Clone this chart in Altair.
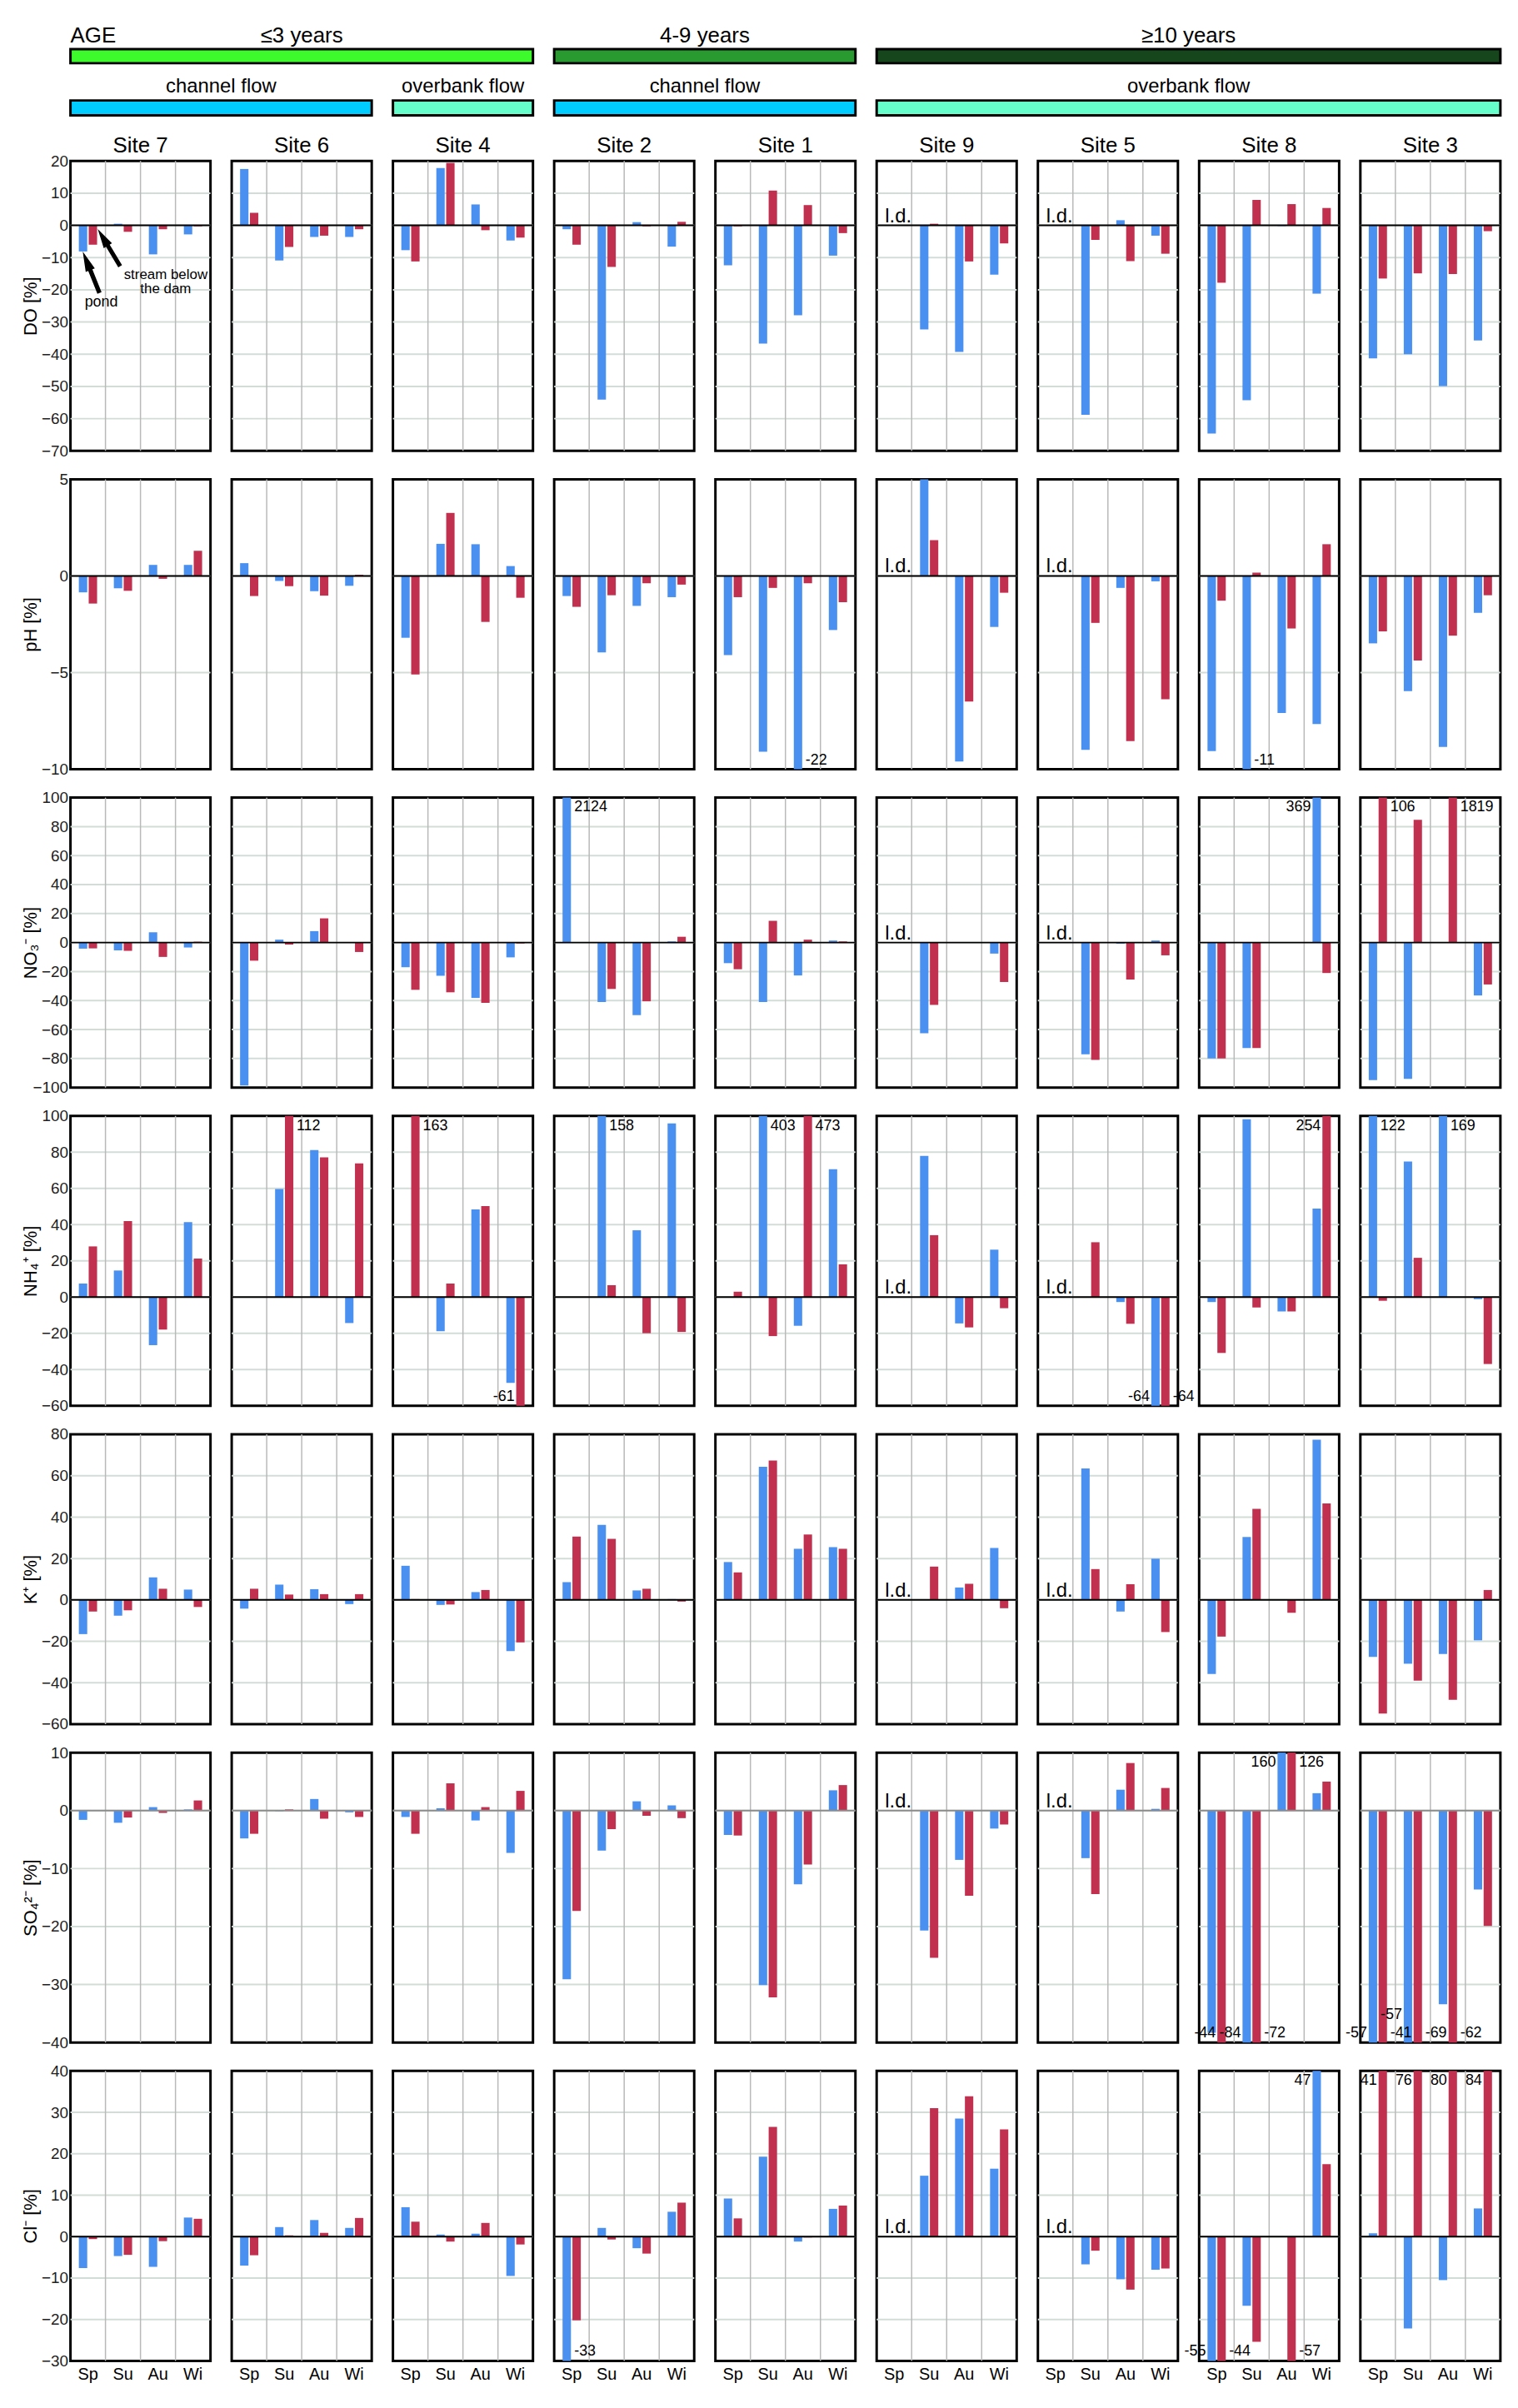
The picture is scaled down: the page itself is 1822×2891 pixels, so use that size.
import altair as alt
import pandas as pd

# ---------------- data ----------------
SITES = ["Site 7", "Site 6", "Site 4", "Site 2", "Site 1", "Site 9", "Site 5", "Site 8", "Site 3"]
SEASONS = ["Sp", "Su", "Au", "Wi"]
SERIES = ["pond", "stream"]
PARAMS = ["DO", "pH", "NO3", "NH4", "K", "SO4", "Cl"]
TITLES = {"DO": "DO [%]", "pH": "pH [%]", "NO3": "NO\u2083\u207b [%]", "NH4": "NH\u2084\u207a [%]",
          "K": "K\u207a [%]", "SO4": "SO\u2084\u00b2\u207b [%]", "Cl": "Cl\u207b [%]"}
DOMAINS = {"DO": (-70, 20), "pH": (-10, 5), "NO3": (-100, 100), "NH4": (-60, 100),
           "K": (-60, 80), "SO4": (-40, 10), "Cl": (-30, 40)}
TICK_STEP = {"DO": 10, "pH": 5, "NO3": 20, "NH4": 20, "K": 20, "SO4": 10, "Cl": 10}
LD_SITES = ["Site 9", "Site 5"]

# rows follow SITES, columns follow SEASONS; None = below limit of detection
DO_POND = [[-8.1, 0.5, -9.0, -2.8], [17.5, -10.9, -3.6, -3.6], [-7.7, 17.8, 6.5, -4.7],
           [-1.2, -54.1, 1.0, -6.6], [-12.4, -36.7, -27.9, -9.4], [None, -32.3, -39.3, -15.3],
           [None, -58.8, 1.6, -3.2], [-64.6, -54.3, -0.2, -21.2], [-41.3, -40.0, -49.9, -35.7]]
DO_STREAM = [[-6.0, -2.0, -1.2, -0.3], [3.9, -6.7, -3.2, -1.2], [-11.2, 19.4, -1.5, -3.8],
             [-6.0, -12.9, -0.3, 1.1], [-0.3, 10.8, 6.3, -2.4], [None, 0.5, -11.2, -5.6],
             [None, -4.5, -11.1, -8.8], [-17.8, 7.9, 6.6, 5.4], [-16.5, -14.9, -15.1, -1.8]]
PH_POND = [[-0.85, -0.64, 0.57, 0.57], [0.66, -0.26, -0.79, -0.51], [-3.2, 1.66, 1.64, 0.51],
           [-1.04, -3.96, -1.55, -1.1], [-4.1, -9.1, -22, -2.8], [None, 5.0, -9.6, -2.64],
           [None, -9.0, -0.62, -0.28], [-9.06, -11, -7.09, -7.66], [-3.49, -5.96, -8.85, -1.91]]
PH_STREAM = [[-1.43, -0.77, -0.15, 1.3], [-1.04, -0.53, -1.02, 0.06], [-5.1, 3.26, -2.38, -1.13],
             [-1.6, -1.0, -0.38, -0.45], [-1.1, -0.62, -0.38, -1.36], [None, 1.85, -6.5, -0.87],
             [None, -2.43, -8.55, -6.38], [-1.28, 0.17, -2.72, 1.64], [-2.87, -4.38, -3.09, -1.0]]
NO3_POND = [[-4.2, -5.4, 7.1, -3.4], [-98.6, 2.0, 7.9, 0.0], [-17.0, -22.9, -38.2, -10.2],
            [2124, -41.0, -50.1, 0.8], [-14.2, -41.0, -22.7, 1.4], [None, -62.6, 0.0, -7.6],
            [None, -77.0, -0.8, 1.4], [-79.9, -72.8, 0.0, 369], [-94.9, -94.0, 0.0, -36.5]]
NO3_STREAM = [[-4.0, -5.7, -9.9, 0.6], [-12.5, -1.4, 16.7, -6.5], [-32.6, -34.3, -41.6, -0.6],
              [0.0, -32.0, -40.5, 4.0], [-18.4, 15.0, 2.0, 0.8], [None, -43.0, 0.0, -27.2],
              [None, -81.0, -25.5, -8.8], [-79.9, -72.8, 0.0, -21.0], [106, 84.7, 1819, -28.9]]
NH4_POND = [[7.5, 14.7, -26.5, 41.4], [0.0, 59.7, 81.2, -14.3], [0.0, -18.8, 48.4, -47.3],
            [0.0, 158, 36.9, 95.9], [0.0, 403, -15.8, 70.6], [None, 78.0, -14.5, 26.2],
            [None, 0.0, -2.7, -64], [-2.7, 98.2, -7.9, 48.9], [122, 74.9, 169, -1.1]]
NH4_STREAM = [[28.0, 42.0, -17.9, 21.3], [0.0, 112, 77.1, 73.8], [163, 7.5, 50.2, -61],
              [0.0, 6.6, -19.9, -19.2], [3.0, -21.5, 473, 18.1], [None, 34.2, -16.7, -6.1],
              [None, 30.3, -14.7, -64], [-30.8, -5.7, -7.9, 254], [-2.0, 21.7, 0.0, -36.9]]
K_POND = [[-16.5, -7.6, 10.9, 5.0], [-4.2, 7.4, 5.2, -2.0], [16.5, -2.4, 3.8, -24.7],
          [8.6, 36.2, 4.6, 0.4], [18.3, 64.3, 24.7, 25.5], [None, 0.0, 6.0, 25.1],
          [None, 63.5, -5.6, 19.9], [-35.8, 30.4, 0.0, 77.4], [-27.5, -30.8, -26.1, -19.5]]
K_STREAM = [[-5.6, -5.0, 5.4, -3.4], [5.4, 2.6, 2.8, 2.8], [0.4, -2.2, 4.8, -20.5],
            [30.6, 29.5, 5.4, -0.8], [13.3, 67.3, 31.6, 24.7], [None, 16.1, 7.8, -4.0],
            [None, 14.9, 7.6, -15.5], [-17.7, 44.0, -6.2, 46.6], [-54.9, -39.0, -48.2, 4.8]]
SO4_POND = [[-1.6, -2.1, 0.6, 0.2], [-4.8, -0.1, 2.0, -0.3], [-1.1, 0.4, -1.7, -7.3],
            [-29.1, -6.9, 1.6, 0.9], [-4.2, -30.1, -12.7, 3.5], [None, -20.7, -8.5, -3.1],
            [None, -8.2, 3.6, 0.3], [-38.3, -84, 160, 3.0], [-57, -57, -33.4, -13.6]]
SO4_STREAM = [[0.0, -1.2, -0.4, 1.75], [-4.0, 0.2, -1.4, -1.1], [-4.0, 4.7, 0.6, 3.4],
              [-17.3, -3.2, -0.9, -1.3], [-4.3, -32.2, -9.3, 4.4], [None, -25.4, -14.7, -2.4],
              [None, -14.4, 8.2, 3.9], [-44, -72, 126, 5.0], [-41, -69, -62, -19.9]]
CL_POND = [[-7.6, -4.7, -7.3, 4.6], [-7.0, 2.3, 4.0, 2.1], [7.1, 0.5, 0.7, -9.5],
           [-33, 2.1, -2.8, 6.0], [9.2, 19.3, -1.2, 6.7], [None, 14.7, 28.5, 16.4],
           [None, -6.7, -10.3, -8.0], [-55, -16.7, 0.0, 47], [0.8, -22.2, -10.5, 6.8]]
CL_STREAM = [[-0.6, -4.4, -1.1, 4.3], [-4.5, 0.3, 0.9, 4.5], [3.6, -1.2, 3.3, -1.9],
             [-20.2, -0.7, -4.1, 8.2], [4.4, 26.5, -0.2, 7.5], [None, 31.0, 33.9, 25.9],
             [None, -3.4, -12.8, -7.7], [-44, -25.4, -57, 17.5], [41, 76, 80, 84]]

VALUES = {"DO": (DO_POND, DO_STREAM), "pH": (PH_POND, PH_STREAM), "NO3": (NO3_POND, NO3_STREAM),
          "NH4": (NH4_POND, NH4_STREAM), "K": (K_POND, K_STREAM), "SO4": (SO4_POND, SO4_STREAM),
          "Cl": (CL_POND, CL_STREAM)}

# out-of-range value labels that sit to the left of their bar (others sit to the right)
LEFT_LABELS = {
    ("NO3", "Site 8", "Wi", "pond"),
    ("NH4", "Site 4", "Wi", "stream"), ("NH4", "Site 5", "Wi", "pond"), ("NH4", "Site 8", "Wi", "stream"),
    ("SO4", "Site 8", "Sp", "stream"), ("SO4", "Site 8", "Su", "pond"), ("SO4", "Site 8", "Au", "pond"),
    ("SO4", "Site 3", "Sp", "pond"), ("SO4", "Site 3", "Su", "pond"),
    ("Cl", "Site 8", "Sp", "pond"), ("Cl", "Site 8", "Wi", "pond"),
    ("Cl", "Site 3", "Sp", "stream"), ("Cl", "Site 3", "Su", "stream"),
    ("Cl", "Site 3", "Au", "stream"), ("Cl", "Site 3", "Wi", "stream"),
}
RAISED_LABELS = {("SO4", "Site 3", "Su", "pond")}

AGE_GROUPS = [("\u22643 years", 0, 2, "#3cfa2c"), ("4-9 years", 3, 4, "#289a30"),
              ("\u226510 years", 5, 8, "#15461c")]
FLOW_GROUPS = [("channel flow", 0, 1, "#00ccff"), ("overbank flow", 2, 2, "#66ffcc"),
               ("channel flow", 3, 4, "#00ccff"), ("overbank flow", 5, 8, "#66ffcc")]

# ---------------- style / layout ----------------
W, H = 169, 350
HH = 140
SP_COL, SP_ROW = 25.6, 34.3
BLUE, RED = "#4a90f0", "#c1304f"
GRID_H, GRID_V = "#d3ddd8", "#b9b9b9"
FN = "Liberation Sans, Arial, sans-serif"
FR = "Liberation Sans, Arial, sans-serif"
ARROW = "M0,-1 L0.22,-0.1 L0.1,-0.1 L0.1,1 L-0.1,1 L-0.1,-0.1 L-0.22,-0.1 Z"

XS = alt.Scale(domain=SEASONS, paddingInner=0, paddingOuter=0)
XOS = alt.Scale(domain=SERIES, paddingInner=0.15, paddingOuter=0.85)
COLS = alt.Scale(domain=SERIES, range=[BLUE, RED])


def panel(p, si, ri):
    site = SITES[si]
    dmin, dmax = DOMAINS[p]
    ys = alt.Scale(domain=[dmin, dmax], clamp=True, nice=False, zero=False)
    ticks = list(range(dmin, dmax + 1, TICK_STEP[p]))
    if si == 0:
        yax = alt.Axis(values=ticks, title=TITLES[p], grid=False, ticks=False, domain=False,
                       labelFont=FN, labelFontSize=19, labelColor="#222222", labelPadding=3,
                       titleFont=FR, titleFontSize=22, titleFontWeight="normal", titleColor="black",
                       titleX=-36)
    else:
        yax = None
    if ri == len(PARAMS) - 1:
        xax = alt.Axis(title=None, ticks=False, domain=False, grid=False, labelAngle=0,
                       labelFont=FN, labelFontSize=20, labelColor="black", labelPadding=6)
    else:
        xax = None

    def X(**kw):
        return alt.X("season:N", scale=XS, axis=xax, sort=SEASONS, **kw)

    def XO():
        return alt.XOffset("series:N", scale=XOS, sort=SERIES)

    def Y(field, **kw):
        return alt.Y(f"{field}:Q", scale=ys, axis=yax, **kw)

    pond, stream = VALUES[p]
    rows = []
    for k, s in enumerate(SEASONS):
        for ser, arr in zip(SERIES, (pond, stream)):
            v = arr[si][k]
            if v is not None:
                rows.append({"season": s, "series": ser, "value": v})
    bdf = pd.DataFrame(rows)

    layers = []
    layers.append(alt.Chart(pd.DataFrame({"t": ticks[1:-1]})).mark_rule(
        color=GRID_H, strokeWidth=2).encode(y=Y("t")))
    layers.append(alt.Chart(pd.DataFrame({"season": SEASONS[1:]})).mark_rule(
        color=GRID_V, strokeWidth=1.5).encode(x=X(bandPosition=0)))
    layers.append(alt.Chart(bdf).mark_bar().encode(
        x=X(), xOffset=XO(), y=Y("value", stack=None),
        color=alt.Color("series:N", scale=COLS, legend=None)))
    layers.append(alt.Chart(pd.DataFrame({"z": [0]})).mark_rule(
        color="#8c8c8c" if p == "SO4" else "black", strokeWidth=2).encode(y=Y("z")))

    for r in rows:
        v = r["value"]
        if dmin <= v <= dmax:
            continue
        key = (p, site, r["season"], r["series"])
        left = key in LEFT_LABELS
        top = v > dmax
        lift = 22 if key in RAISED_LABELS else 0
        ldf = pd.DataFrame({"season": [r["season"]], "series": [r["series"]],
                            "ly": [dmax if top else dmin], "txt": [str(int(round(v)))]})
        layers.append(alt.Chart(ldf).mark_text(
            align="right" if left else "left", baseline="top" if top else "bottom",
            dx=-7 if left else 9, dy=3 if top else -2 - lift,
            font=FR, fontSize=18, color="black").encode(
            x=X(), xOffset=XO(), y=Y("ly"), text="txt:N"))

    if site in LD_SITES:
        layers.append(alt.Chart(pd.DataFrame({"season": ["Sp"], "z": [0], "t": ["l.d."]})).mark_text(
            align="left", baseline="alphabetic", dx=-11, dy=-4, font=FN, fontSize=24,
            color="black").encode(x=X(), y=Y("z"), text="t:N"))

    if ri == 0:
        # site name above the panel (centre = boundary between Su and Au)
        layers.append(alt.Chart(pd.DataFrame({"season": ["Su"], "z": [dmax], "t": [site]})).mark_text(
            align="center", baseline="alphabetic", dy=-10, font=FN, fontSize=26,
            color="black").encode(x=X(bandPosition=1.0), y=Y("z"), text="t:N"))

    if ri == 0 and si == 0:
        # annotation: pond / stream below the dam
        arrows = pd.DataFrame({"season": ["Sp", "Su"], "v": [-14.55, -6.9]})
        layers.append(alt.Chart(arrows.iloc[[0]]).mark_point(
            shape=ARROW, size=2900, filled=True, color="black", opacity=1, angle=338).encode(
            x=X(bandPosition=0.59), y=Y("v")))
        layers.append(alt.Chart(arrows.iloc[[1]]).mark_point(
            shape=ARROW, size=2750, filled=True, color="black", opacity=1, angle=329).encode(
            x=X(bandPosition=0.10), y=Y("v")))
        layers.append(alt.Chart(pd.DataFrame({"season": ["Sp"], "v": [-25.1], "t": ["pond"]})).mark_text(
            align="center", baseline="alphabetic", font=FN, fontSize=18, color="black").encode(
            x=X(bandPosition=0.88), y=Y("v"), text="t:N"))
        layers.append(alt.Chart(pd.DataFrame({"season": ["Au"], "v": [-13.3],
                                              "t": ["stream below\nthe dam"]})).mark_text(
            align="center", baseline="top", font=FN, fontSize=17, lineBreak="\n", lineHeight=17,
            color="black").encode(x=X(bandPosition=0.72), y=Y("v"), text="t:N"))

    return alt.layer(*layers).properties(
        width=W, height=H, view=alt.ViewBackground(stroke="black", strokeWidth=3))


AGE_TXT_Y, AGE_BAR = 31.3, (39.3, 56.3)
FLOW_TXT_Y, FLOW_BAR = 91.3, (101.3, 119.3)


def header(ci):
    hx = alt.Scale(domain=[0, 1], nice=False, zero=False)
    hy = alt.Scale(domain=[0, HH], reverse=True, nice=False, zero=False)

    def enc_rect(ch):
        return ch.encode(x=alt.X("a:Q", scale=hx, axis=None), x2="b:Q",
                         y=alt.Y("c:Q", scale=hy, axis=None), y2="d:Q")

    layers = [enc_rect(alt.Chart(pd.DataFrame({"a": [0], "b": [1], "c": [0], "d": [HH]})).mark_rect(opacity=0))]
    for groups, (y0, y1), ty, fs in ((AGE_GROUPS, AGE_BAR, AGE_TXT_Y, 26), (FLOW_GROUPS, FLOW_BAR, FLOW_TXT_Y, 24)):
        for label, c0, c1, color in groups:
            if c0 != ci:
                continue
            span = (c1 - c0) * (W + SP_COL) / W + 1
            layers.append(enc_rect(alt.Chart(pd.DataFrame({"a": [0], "b": [span], "c": [y0], "d": [y1]})).mark_rect(
                fill=color, stroke="black", strokeWidth=3)))
            layers.append(alt.Chart(pd.DataFrame({"a": [span / 2], "c": [ty], "t": [label]})).mark_text(
                align="center", baseline="alphabetic", font=FN, fontSize=fs, color="black").encode(
                x=alt.X("a:Q", scale=hx, axis=None), y=alt.Y("c:Q", scale=hy, axis=None), text="t:N"))
    if ci == 0:
        layers.append(alt.Chart(pd.DataFrame({"a": [0], "c": [AGE_TXT_Y], "t": ["AGE"]})).mark_text(
            align="left", baseline="alphabetic", font=FN, fontSize=26, color="black").encode(
            x=alt.X("a:Q", scale=hx, axis=None), y=alt.Y("c:Q", scale=hy, axis=None), text="t:N"))
    return alt.layer(*layers).properties(
        width=W, height=HH, view=alt.ViewBackground(stroke="transparent", strokeWidth=0))


cells = [header(ci) for ci in range(len(SITES))]
for ri, p in enumerate(PARAMS):
    for si in range(len(SITES)):
        cells.append(panel(p, si, ri))

chart = alt.concat(*cells, columns=len(SITES), spacing={"row": SP_ROW, "column": SP_COL},
                   bounds="flush").properties(
    padding={"left": 16, "top": 4, "right": 10, "bottom": 10}, background="white"
).configure_view(stroke="transparent", strokeWidth=0).configure(font=FR)

chart.save("out.html", embed_options={"renderer": "svg", "actions": False})
